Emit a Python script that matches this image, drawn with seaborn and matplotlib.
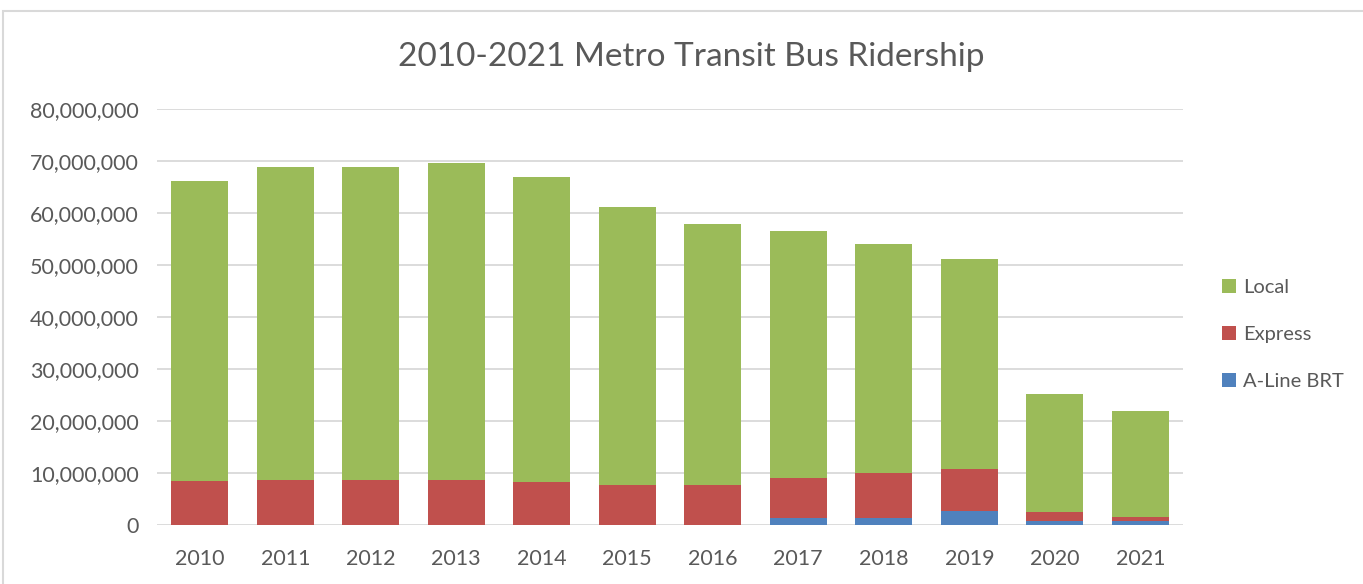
import pandas as pd
import seaborn as sns
import matplotlib.pyplot as plt
from matplotlib.patches import Rectangle, Patch
from matplotlib.ticker import FuncFormatter

# ridership in millions
years = ['2010', '2011', '2012', '2013', '2014', '2015',
         '2016', '2017', '2018', '2019', '2020', '2021']
aline_brt = [0, 0, 0, 0, 0, 0, 0, 1.5, 1.5, 2.7, 0.8, 0.8]
express = [8.5, 8.8, 8.8, 8.8, 8.3, 7.8, 7.8, 7.7, 8.5, 8.2, 1.7, 0.8]
local = [57.6, 60.1, 60.1, 60.9, 58.6, 53.4, 50.2, 47.3, 44.1, 40.2, 22.7, 20.4]

df = pd.DataFrame({'year': years, 'brt': aline_brt, 'express': express, 'local': local})
df = df.melt(id_vars='year', var_name='mode', value_name='riders')
df['riders'] = df['riders'] * 1e6

# cumulative stack heights so layers can be drawn on top of each other
wide = df.pivot(index='year', columns='mode', values='riders').loc[years]
wide['top_brt'] = wide['brt']
wide['top_express'] = wide['brt'] + wide['express']
wide['top_local'] = wide['top_express'] + wide['local']
wide = wide.reset_index()

colors = {'Local': '#9BBB59', 'Express': '#C0504D', 'A-Line BRT': '#4F81BD'}

sns.set_style('white')
plt.rcParams['font.family'] = ['Lato', 'DejaVu Sans']

fig = plt.figure(figsize=(13.63, 5.84), dpi=100)
ax = fig.add_axes([0.1152, 0.1002, 0.7528, 0.7132])

for col, name in [('top_local', 'Local'), ('top_express', 'Express'), ('top_brt', 'A-Line BRT')]:
    sns.barplot(data=wide, x='year', y=col, color=colors[name], width=0.667,
                saturation=1, linewidth=0, ax=ax, zorder=3)

ax.set_ylim(0, 80e6)
ax.set_xlim(-0.5, 11.5)
ax.set_yticks(range(0, 80000001, 10000000))
ax.yaxis.set_major_formatter(FuncFormatter(lambda v, p: f'{int(v):,}'))
ax.grid(axis='y', color='#d9d9d9', linewidth=1.3, zorder=0)
ax.set_axisbelow(True)
sns.despine(ax=ax, left=True, top=True, right=True, bottom=True)
ax.tick_params(axis='both', length=0, labelsize=15.5, colors='#595959')
ax.tick_params(axis='y', pad=13)
ax.tick_params(axis='x', pad=17)
ax.set_xlabel('')
ax.set_ylabel('')

fig.text(0.507, 0.902, '2010-2021 Metro Transit Bus Ridership', ha='center', va='center',
         fontsize=24, color='#595959')

handles = [Patch(facecolor=colors[n], edgecolor='none') for n in ['Local', 'Express', 'A-Line BRT']]
fig.legend(handles, ['Local', 'Express', 'A-Line BRT'], loc='center left',
           bbox_to_anchor=(0.883, 0.427), frameon=False, fontsize=14.5,
           labelcolor='#595959', handlelength=0.7, handleheight=0.7,
           handletextpad=0.35, labelspacing=1.5)

# light frame around the chart area
fig.patches.append(Rectangle((3 / 1363, -0.01), 1.0, 1 - 11 / 584 + 0.01, transform=fig.transFigure,
                             fill=False, edgecolor='#d9d9d9', linewidth=1.5))

plt.savefig('out.png', dpi=100)
